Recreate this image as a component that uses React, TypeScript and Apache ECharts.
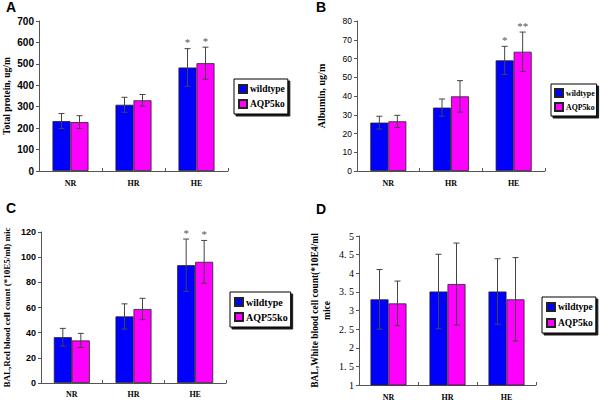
import React, { useEffect, useRef } from "react";
import * as echarts from "echarts";

const categories = ["NR", "HR", "HE"];

const aWild = [233, 309, 483];
const aWildErr = [35, 35, 88];
const aKo = [228, 330, 503];
const aKoErr = [30, 27, 75];
const aWildStars = ["", "", "*"];
const aKoStars = ["", "", "*"];

const bWild = [25.8, 33.8, 59.0];
const bWildErr = [3.4, 4.6, 7.5];
const bKo = [26.5, 39.8, 63.6];
const bKoErr = [3.2, 8.4, 10.5];
const bWildStars = ["", "", "*"];
const bKoStars = ["", "", "**"];

const cWild = [36.4, 52.9, 93.6];
const cWildErr = [7, 10, 20.8];
const cKo = [33.8, 58.8, 96.3];
const cKoErr = [5.6, 8.5, 17];
const cWildStars = ["", "", "*"];
const cKoStars = ["", "", "*"];

const dWild = [3.3, 3.51, 3.51];
const dWildErr = [0.8, 1.0, 0.88];
const dKo = [3.19, 3.71, 3.3];
const dKoErr = [0.6, 1.1, 1.12];
const dStars = ["", "", ""];

const BLUE = "#0000ff";
const MAGENTA = "#ff00ff";
const BAR_W = 18;
const SERIF = "Liberation Serif";
const SANS = "Liberation Sans";

function errorSeries(gi: number, vals: number[], errs: number[], stars: string[], sign: number) {
  return {
    type: "custom",
    xAxisIndex: gi,
    yAxisIndex: gi,
    z: 5,
    silent: true,
    data: vals.map((v, i) => [i, v, errs[i]]),
    renderItem: (params: any, api: any) => {
      const i = api.value(0);
      const v = api.value(1);
      const e = api.value(2);
      const c = api.coord([i, v]);
      const top = api.coord([i, v + e]);
      const bot = api.coord([i, v - e]);
      const x = c[0] + (sign * BAR_W) / 2;
      const cap = 3;
      const st = { stroke: "#444", lineWidth: 1 };
      const children: any[] = [
        { type: "line", shape: { x1: x, y1: top[1], x2: x, y2: bot[1] }, style: st },
        { type: "line", shape: { x1: x - cap, y1: top[1], x2: x + cap, y2: top[1] }, style: st },
        { type: "line", shape: { x1: x - cap, y1: bot[1], x2: x + cap, y2: bot[1] }, style: st },
      ];
      const s = stars[params.dataIndex];
      if (s) {
        children.push({
          type: "text",
          style: {
            text: s,
            x,
            y: top[1] - 1,
            textAlign: "center",
            textVerticalAlign: "bottom",
            fontSize: 11,
            fontFamily: SERIF,
            fill: "#555",
          },
        });
      }
      return { type: "group", children };
    },
  };
}

function barSeries(gi: number, name: string, vals: number[], color: string) {
  return {
    type: "bar",
    name,
    xAxisIndex: gi,
    yAxisIndex: gi,
    barWidth: BAR_W,
    barGap: "0%",
    data: vals,
    itemStyle: { color, borderColor: "#222", borderWidth: 0.8 },
  };
}

function legend(left: number, top: number, koName: string, fontSize: number, gap: number, pad: number[]) {
  return {
    left,
    top,
    orient: "vertical",
    data: ["wildtype", koName],
    icon: "rect",
    itemWidth: 8,
    itemHeight: 8,
    itemGap: gap,
    padding: pad,
    borderColor: "#000",
    borderWidth: 1,
    backgroundColor: "#fff",
    shadowColor: "rgba(0,0,0,0.9)",
    shadowBlur: 0,
    shadowOffsetX: 2,
    shadowOffsetY: 2,
    selectedMode: false,
    textStyle: { fontFamily: SERIF, fontWeight: "bold", fontSize, color: "#000", padding: [0, 0, 0, -2] },
  };
}

function xAxis(gi: number, margin: number) {
  return {
    type: "category",
    gridIndex: gi,
    data: categories,
    axisLine: { show: true, lineStyle: { color: "#555", width: 1 } },
    axisTick: { show: true, inside: true, length: 3, lineStyle: { color: "#555" } },
    axisLabel: { fontFamily: SERIF, fontWeight: "bold", fontSize: 8, color: "#000", margin },
  };
}

function yAxis(gi: number, min: number, max: number, interval: number, name: string, nameGap: number, nameSize: number, label: any) {
  return {
    type: "value",
    gridIndex: gi,
    min,
    max,
    interval,
    name,
    nameLocation: "middle",
    nameGap,
    nameRotate: 90,
    nameTextStyle: { fontFamily: SERIF, fontWeight: "bold", fontSize: nameSize, color: "#000", lineHeight: 12 },
    axisLine: { show: true, lineStyle: { color: "#555", width: 1 } },
    axisTick: { show: true, length: 3, lineStyle: { color: "#555" } },
    splitLine: { show: false },
    axisLabel: { color: "#000", margin: 5, ...label },
  };
}

const letterStyle = { fontFamily: SANS, fontWeight: "bold", fontSize: 14, fill: "#000" };

export default function App() {
  const ref = useRef<HTMLDivElement>(null);
  useEffect(() => {
    if (!ref.current) return;
    const chart = echarts.init(ref.current, undefined, { renderer: "svg" });
    chart.setOption({
      animation: false,
      backgroundColor: "#fff",
      graphic: [
        { type: "text", left: 6, top: 0, style: { text: "A", ...letterStyle } },
        { type: "text", left: 316, top: 0, style: { text: "B", ...letterStyle } },
        { type: "text", left: 6, top: 201, style: { text: "C", ...letterStyle } },
        { type: "text", left: 316, top: 202, style: { text: "D", ...letterStyle } },
      ],
      grid: [
        { left: 39, top: 21, width: 189, height: 150 },
        { left: 357, top: 21, width: 188, height: 150 },
        { left: 38, top: 232, width: 188, height: 151 },
        { left: 359, top: 236, width: 177, height: 149 },
      ],
      legend: [
        legend(234, 79, "AQP5ko", 9.5, 5, [5, 3, 5, 4]),
        legend(551, 84, "AQP5ko", 7.8, 4, [4, 2, 4, 3]),
        legend(230, 292, "AQP55ko", 10, 5, [5, 3, 5, 4]),
        legend(542, 297, "AQP5ko", 9.5, 6, [5, 3, 5, 4]),
      ],
      xAxis: [xAxis(0, 8), xAxis(1, 8), xAxis(2, 7), xAxis(3, 8)],
      yAxis: [
        yAxis(0, 0, 700, 100, "Total protein, ug/m", 26, 9.5, { fontFamily: SANS, fontWeight: "bold", fontSize: 10 }),
        yAxis(1, 0, 80, 10, "Albumin, ug/m", 30, 10, { fontFamily: SANS, fontSize: 8.5 }),
        yAxis(2, 0, 120, 20, "BAL,Red blood cell count (*10E5/ml) mic", 28, 9, { fontFamily: SANS, fontWeight: "bold", fontSize: 9 }),
        yAxis(3, 1, 5, 0.5, "BAL,White blood cell count(*10E4/ml\nmice", 26, 9.5, {
          fontFamily: SERIF,
          fontSize: 10,
          formatter: (v: number) => String(v).replace(".", ". "),
        }),
      ],
      series: [
        barSeries(0, "wildtype", aWild, BLUE),
        barSeries(0, "AQP5ko", aKo, MAGENTA),
        errorSeries(0, aWild, aWildErr, aWildStars, -1),
        errorSeries(0, aKo, aKoErr, aKoStars, 1),
        barSeries(1, "wildtype", bWild, BLUE),
        barSeries(1, "AQP5ko", bKo, MAGENTA),
        errorSeries(1, bWild, bWildErr, bWildStars, -1),
        errorSeries(1, bKo, bKoErr, bKoStars, 1),
        barSeries(2, "wildtype", cWild, BLUE),
        barSeries(2, "AQP55ko", cKo, MAGENTA),
        errorSeries(2, cWild, cWildErr, cWildStars, -1),
        errorSeries(2, cKo, cKoErr, cKoStars, 1),
        barSeries(3, "wildtype", dWild, BLUE),
        barSeries(3, "AQP5ko", dKo, MAGENTA),
        errorSeries(3, dWild, dWildErr, dStars, -1),
        errorSeries(3, dKo, dKoErr, dStars, 1),
      ],
    });
    return () => chart.dispose();
  }, []);
  return <div ref={ref} style={{ position: "absolute", left: 0, top: 0, width: 600, height: 402 }} />;
}
